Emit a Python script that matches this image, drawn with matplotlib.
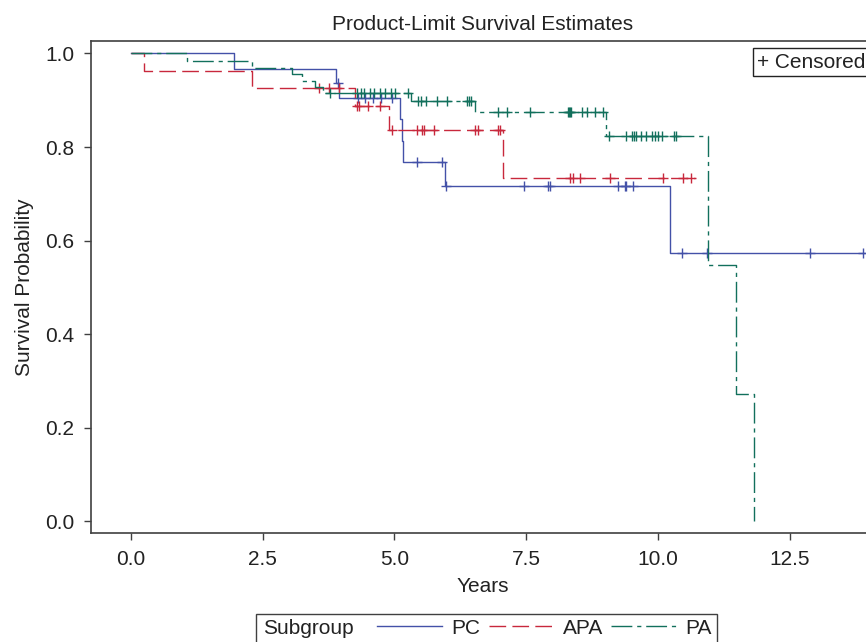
import numpy as np
import matplotlib
matplotlib.use('Agg')
import matplotlib.pyplot as plt
from matplotlib.patches import Rectangle

plt.rcParams['font.family'] = ['Liberation Sans', 'DejaVu Sans']
plt.rcParams['font.size'] = 15

# event times (years) and survival just after each event
pc_t = [1.95, 3.89, 3.95, 5.10, 5.15, 5.17, 5.96, 10.22]
pc_s = [0.967, 0.936, 0.905, 0.859, 0.813, 0.769, 0.717, 0.573]
pc_end = 13.95
pc_cens = [3.93, 4.30, 4.45, 4.60, 4.75, 4.96, 5.42, 5.91, 5.97, 7.45, 7.92,
           7.95, 9.24, 9.37, 9.40, 9.52, 10.46, 10.94, 12.89, 13.90]

apa_t = [0.25, 2.30, 4.25, 4.90, 7.06]
apa_s = [0.963, 0.926, 0.887, 0.836, 0.733]
apa_end = 10.70
apa_cens = [3.57, 3.76, 3.95, 4.28, 4.33, 4.50, 4.72, 4.96, 5.43, 5.52, 5.56,
            5.76, 6.52, 6.59, 6.97, 7.01, 8.33, 8.38, 8.52, 9.09, 10.10,
            10.47, 10.62]

pa_t = [1.07, 2.30, 3.05, 3.24, 3.49, 3.65, 5.31, 6.53, 9.02, 10.96, 11.48, 11.82]
pa_s = [0.984, 0.970, 0.956, 0.942, 0.929, 0.916, 0.898, 0.874, 0.823, 0.547,
        0.273, 0.0]
pa_end = 11.82
pa_cens = [3.77, 4.28, 4.37, 4.43, 4.53, 4.62, 4.72, 4.83, 4.94, 5.01, 5.26,
           5.45, 5.51, 5.60, 5.81, 5.99, 6.38, 6.42, 6.46, 6.97, 7.13, 7.57,
           8.29, 8.31, 8.33, 8.35, 8.55, 8.66, 8.80, 8.95, 9.07, 9.39, 9.50,
           9.54, 9.58, 9.67, 9.78, 9.89, 9.95, 10.01, 10.08, 10.30, 10.35]

groups = ['PC', 'APA', 'PA']
colors = ['#4351A8', '#C8283C', '#12705C']
styles = ['-', (0, (12, 4.5)), (0, (15, 3.5, 3, 3.5))]

x_ticks = [0.0, 2.5, 5.0, 7.5, 10.0, 12.5]
y_ticks = [0.0, 0.2, 0.4, 0.6, 0.8, 1.0]


def km_steps(times, surv, end):
    xs = np.array([0.0] + list(times) + [end])
    ys = np.array([1.0] + list(surv) + [surv[-1]])
    return xs, ys


fig = plt.figure(figsize=(8.66, 6.42), dpi=100)
ax = fig.add_axes([91 / 866, 1 - 533 / 642, 784 / 866, 492 / 642])

data = [(pc_t, pc_s, pc_end, pc_cens),
        (apa_t, apa_s, apa_end, apa_cens),
        (pa_t, pa_s, pa_end, pa_cens)]

handles = []
for (t, s, end, cens), name, col, ls in zip(data, groups, colors, styles):
    xs, ys = km_steps(t, s, end)
    ln, = ax.step(xs, ys, where='post', color=col, lw=1.0, linestyle=ls,
                  label=name)
    handles.append(ln)
    c = np.array(cens)
    idx = np.searchsorted(xs, c, side='right') - 1
    ax.plot(c, ys[idx], linestyle='none', marker='+', color=col,
            markersize=7, mew=1.0)

ax.set_xlim(-0.759, 14.12)
ax.set_ylim(-0.0246, 1.0267)
ax.set_xticks(x_ticks)
ax.set_xticklabels([f'{v:.1f}' for v in x_ticks])
ax.set_yticks(y_ticks)
ax.set_yticklabels([f'{v:.1f}' for v in y_ticks])
ax.tick_params(length=5, width=1.0, color='#404040', labelcolor='#222222',
               pad=7)
for sp in ax.spines.values():
    sp.set_color('#404040')
    sp.set_linewidth(1.2)

ax.set_xlabel('Years', labelpad=6, color='#222222')
ax.set_ylabel('Survival Probability', labelpad=8, color='#222222')
ax.set_title('Product-Limit Survival Estimates', pad=8, color='#222222',
             fontsize=15)

ax.text(0.8495, 0.957, '+ Censored', transform=ax.transAxes, va='center',
        ha='left', color='#222222',
        bbox=dict(boxstyle='square,pad=0.2', fc='white', ec='#222222', lw=1.0))

# bottom legend: "Subgroup" then line samples
ly = 1 - 628 / 642
fig.text(263 / 866, ly, 'Subgroup', va='center', ha='left', color='#222222')
fig.legend(handles=handles, labels=groups, ncol=3, frameon=False,
           loc='center left', bbox_to_anchor=(367 / 866, ly),
           borderpad=0, handlelength=3.1, handletextpad=0.45,
           columnspacing=0.4, fontsize=15, labelcolor='#222222')
fig.patches.append(Rectangle((256 / 866, -0.05), (717 - 256) / 866,
                             0.05 + 1 - 614 / 642, transform=fig.transFigure,
                             fill=False, ec='#404040', lw=1.0))

fig.savefig('out.png', dpi=100)
